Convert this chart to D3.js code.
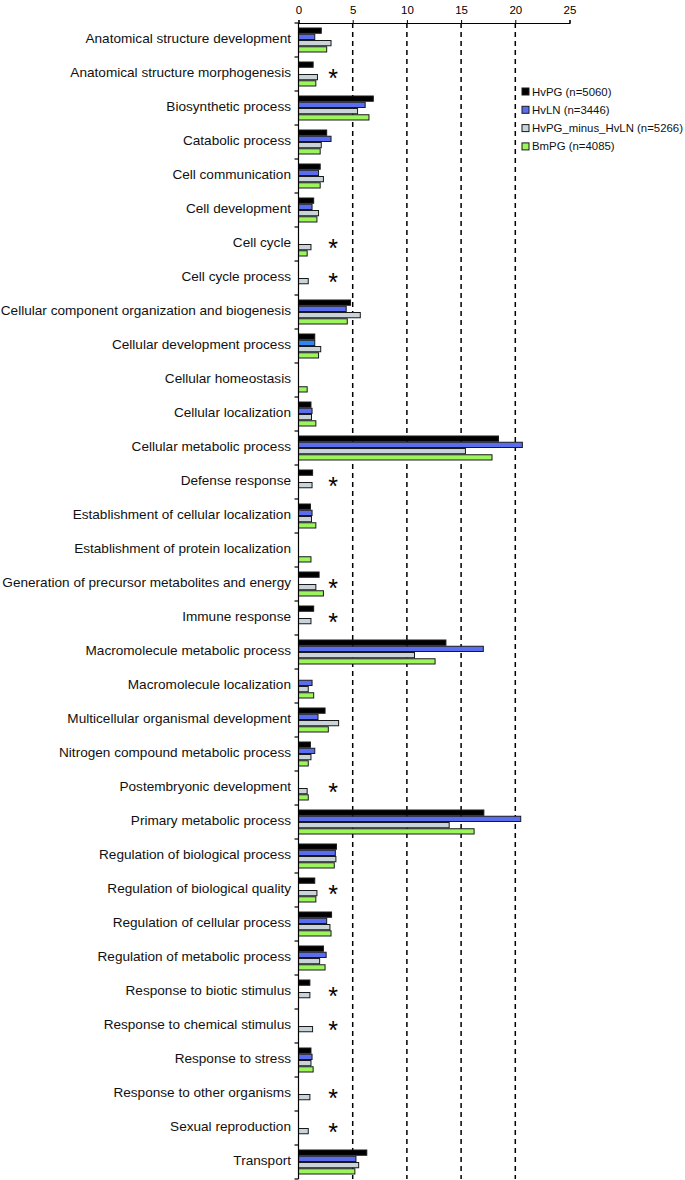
<!DOCTYPE html>
<html>
<head>
<meta charset="utf-8">
<script src="https://cdn.jsdelivr.net/npm/d3@7"></script>
<style>
  body { margin: 0; background: #fff; }
  svg { font-family: "Liberation Sans", Arial, sans-serif; }
</style>
</head>
<body>
<svg width="685" height="1180"></svg>
<script>
// GO categories, top to bottom
var categories = [
  "Anatomical structure development",
  "Anatomical structure morphogenesis",
  "Biosynthetic process",
  "Catabolic process",
  "Cell communication",
  "Cell development",
  "Cell cycle",
  "Cell cycle process",
  "Cellular component organization and biogenesis",
  "Cellular development process",
  "Cellular homeostasis",
  "Cellular localization",
  "Cellular metabolic process",
  "Defense response",
  "Establishment of cellular localization",
  "Establishment of protein localization",
  "Generation of precursor metabolites and energy",
  "Immune response",
  "Macromolecule metabolic process",
  "Macromolecule localization",
  "Multicellular organismal development",
  "Nitrogen compound metabolic process",
  "Postembryonic development",
  "Primary metabolic process",
  "Regulation of biological process",
  "Regulation of biological quality",
  "Regulation of cellular process",
  "Regulation of metabolic process",
  "Response to biotic stimulus",
  "Response to chemical stimulus",
  "Response to stress",
  "Response to other organisms",
  "Sexual reproduction",
  "Transport"
];

var seriesNames = ["HvPG (n=5060)", "HvLN (n=3446)", "HvPG_minus_HvLN (n=5266)", "BmPG (n=4085)"];

var hvpg = [2.1, 1.35, 6.9, 2.6, 2.0, 1.4, 0, 0, 4.8, 1.5, 0, 1.15, 18.45, 1.3, 1.1, 0, 1.9, 1.4,
            13.6, 0, 2.45, 1.1, 0, 17.1, 3.5, 1.5, 3.05, 2.3, 1.05, 0, 1.15, 0, 0, 6.3];
var hvln = [1.5, 0, 6.15, 3.0, 1.85, 1.25, 0, 0, 4.4, 1.5, 0, 1.25, 20.65, 0, 1.25, 0, 0, 0,
            17.05, 1.25, 1.8, 1.5, 0, 20.5, 3.4, 0, 2.6, 2.55, 0, 0, 1.25, 0, 0, 5.3];
var hvpgMinus = [3.0, 1.75, 5.45, 2.1, 2.3, 1.85, 1.15, 0.9, 5.7, 2.05, 0, 1.2, 15.4, 1.25, 1.2, 0, 1.6, 1.15,
                 10.7, 0.9, 3.7, 1.15, 0.8, 13.9, 3.45, 1.7, 2.9, 1.95, 1.05, 1.3, 1.15, 1.05, 0.9, 5.55];
var bmpg = [2.6, 1.6, 6.5, 2.0, 2.0, 1.7, 0.8, 0, 4.5, 1.85, 0.8, 1.6, 17.85, 0, 1.6, 1.15, 2.3, 0,
            12.6, 1.4, 2.75, 0.9, 0.9, 16.2, 3.3, 1.6, 3.0, 2.45, 0, 0, 1.35, 0, 0, 5.2];

var starred = [
  "Anatomical structure morphogenesis", "Cell cycle", "Cell cycle process", "Defense response",
  "Generation of precursor metabolites and energy", "Immune response", "Postembryonic development",
  "Regulation of biological quality", "Response to biotic stimulus", "Response to chemical stimulus",
  "Response to other organisms", "Sexual reproduction"
];

var xTicks = [0, 5, 10, 15, 20, 25];

var colors = ["#000000", "#5a6cf0", "#c9d3da", "#9cf55c"];

var seriesValues = [hvpg, hvln, hvpgMinus, bmpg];

var svg = d3.select("svg");

var x = d3.scaleLinear().domain([0, 25]).range([298.5, 569.5]);
var y = d3.scaleBand().domain(categories).range([23, 1179]);
var y1 = d3.scaleBand().domain(d3.range(4)).range([4.5, 29.5]);

// dashed reference lines
svg.append("g").selectAll("line")
  .data([5, 10, 15, 20])
  .enter().append("line")
  .attr("x1", function(d) { return x(d); })
  .attr("x2", function(d) { return x(d); })
  .attr("y1", 23)
  .attr("y2", 1179)
  .attr("stroke", "#000")
  .attr("stroke-width", 1.5)
  .attr("stroke-dasharray", "5,4");

// bars
var rows = categories.map(function(c, i) {
  return { cat: c, vals: seriesValues.map(function(s) { return s[i]; }) };
});

var groups = svg.append("g").selectAll("g")
  .data(rows)
  .enter().append("g")
  .attr("transform", function(d) { return "translate(0," + y(d.cat) + ")"; });

groups.selectAll("rect")
  .data(function(d) {
    return d.vals.map(function(v, j) { return { cat: d.cat, v: v, j: j }; })
      .filter(function(e) { return e.v > 0; });
  })
  .enter().append("rect")
  .attr("x", x(0))
  .attr("y", function(d) { return y1(d.j) + 0.5; })
  .attr("width", function(d) { return x(d.v) - x(0); })
  .attr("height", y1.bandwidth() - 1)
  .attr("fill", function(d) {
    // odd brighter blue in the original for this one bar
    if (d.j === 1 && d.cat === "Cellular development process") return "#2f86f0";
    return colors[d.j];
  })
  .attr("stroke", "#1a1a1a")
  .attr("stroke-width", 1);

// asterisks
svg.append("g").selectAll("text")
  .data(starred)
  .enter().append("text")
  .attr("x", x(3.2))
  .attr("y", function(d) { return y(d) + y.bandwidth() / 2 + 13; })
  .attr("text-anchor", "middle")
  .style("font-size", "25px")
  .text("*");

// top axis
var xAxis = svg.append("g")
  .attr("transform", "translate(0,23)")
  .call(d3.axisTop(x).tickValues(xTicks).tickSize(3).tickSizeOuter(3));
xAxis.select(".domain").attr("stroke", "#000").attr("stroke-width", 1.2);
xAxis.selectAll("text").style("font-size", "11.5px").attr("fill", "#000").attr("y", -9);

// left axis with ticks at band boundaries
var yg = svg.append("g");
yg.append("line")
  .attr("x1", x(0)).attr("x2", x(0))
  .attr("y1", 23).attr("y2", 1179)
  .attr("stroke", "#000").attr("stroke-width", 1.2);
yg.selectAll("line.tk")
  .data(categories.concat(["_end"]))
  .enter().append("line")
  .attr("class", "tk")
  .attr("x1", x(0) - 4).attr("x2", x(0))
  .attr("y1", function(d, i) { return 23 + i * y.bandwidth(); })
  .attr("y2", function(d, i) { return 23 + i * y.bandwidth(); })
  .attr("stroke", "#000").attr("stroke-width", 1.2);

yg.selectAll("text")
  .data(categories)
  .enter().append("text")
  .attr("x", 291)
  .attr("y", function(d) { return y(d) + y.bandwidth() / 2 + 2.5; })
  .attr("text-anchor", "end")
  .style("font-size", "13.6px")
  .attr("fill", "#111")
  .text(function(d) { return d; });

// legend
var legend = svg.append("g").selectAll("g")
  .data(seriesNames)
  .enter().append("g")
  .attr("transform", function(d, i) { return "translate(522," + (88 + i * 18.3) + ")"; });
legend.append("rect")
  .attr("width", 7).attr("height", 7)
  .attr("fill", function(d, i) { return colors[i]; })
  .attr("stroke", "#1a1a1a").attr("stroke-width", 1);
legend.append("text")
  .attr("x", 10).attr("y", 7.5)
  .style("font-size", "11.4px")
  .attr("fill", "#111")
  .text(function(d) { return d; });
</script>
</body>
</html>
